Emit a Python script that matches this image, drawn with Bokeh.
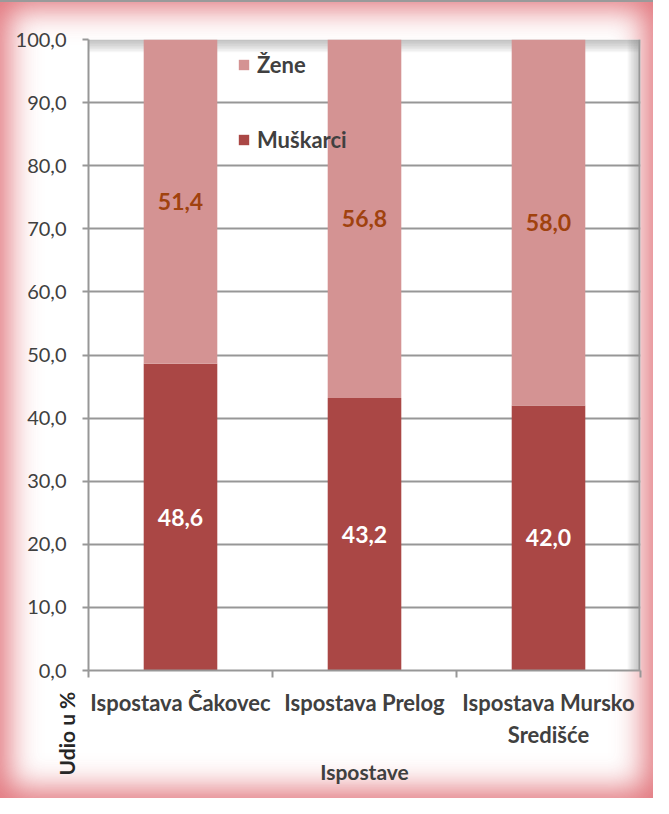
from bokeh.plotting import figure
from bokeh.models import (Range1d, FixedTicker, ColumnDataSource, LabelSet, Legend,
                          LegendItem, BoxAnnotation, Title)
from bokeh.embed import file_html
from bokeh.resources import INLINE
from bokeh.core.properties import value

# ---- data ----
categories = ["Ispostava Čakovec", "Ispostava Prelog", "Ispostava Mursko\nSredišće"]
muskarci = [48.6, 43.2, 42.0]
zene = [51.4, 56.8, 58.0]
y_ticks = [0, 10, 20, 30, 40, 50, 60, 70, 80, 90, 100]
series_names = ["Muškarci", "Žene"]
x_title = "Ispostave"
y_title = "Udio u %"

# ---- layout constants ----
FRAME_W, FRAME_H = 552, 631
BL, BR, BT, BB = 88, 13, 39, 128

FONT = "Lato"
TXT = "#404040"
GRID = "#979797"
C_M = "#AA4745"
C_Z = "#D49393"

def fmt(v):
    return f"{v:.1f}".replace(".", ",")

xs = [i + 0.5 for i in range(len(categories))]
source = ColumnDataSource(dict(
    x=xs,
    muskarci=muskarci,
    zene=zene,
    m_mid=[m / 2 for m in muskarci],
    z_mid=[m + z / 2 for m, z in zip(muskarci, zene)],
    m_txt=[fmt(v) for v in muskarci],
    z_txt=[fmt(v) for v in zene],
))

p = figure(frame_width=FRAME_W, frame_height=FRAME_H,
           min_border_left=BL, min_border_right=BR, min_border_top=BT, min_border_bottom=BB,
           x_range=Range1d(0, len(categories)), y_range=Range1d(0, 100),
           output_backend="svg", toolbar_location=None,
           border_fill_alpha=0, background_fill_color="white",
           outline_line_color=None)
# outer red glow of the chart area + thin grey line at the top
p.styles = {
    "background-color": "white",
    "box-shadow": "inset 0 2px 0 0 #9a9a9a, inset 0 0 30px 9px rgba(220,92,100,0.85)",
}

# ---- plot-area inner shadow (decoration) ----
px_x = FRAME_W / len(categories)
px_y = FRAME_H / 100.0
for i in range(1, 9):
    p.add_layout(BoxAnnotation(left=len(categories) - i * 1.6 / px_x,
                               fill_color="#808080", fill_alpha=0.07, line_color=None,
                               level="underlay"))
    p.add_layout(BoxAnnotation(bottom=100 - i * 1.6 / px_y,
                               fill_color="#808080", fill_alpha=0.07, line_color=None,
                               level="underlay"))
p.add_layout(BoxAnnotation(left=len(categories) - 2 / px_x,
                           fill_color=GRID, fill_alpha=1, line_color=None, level="underlay"))

# ---- bars ----
rs = p.vbar_stack(["muskarci", "zene"], x="x", width=0.4, color=[C_M, C_Z],
                  line_color=None, source=source)

p.add_layout(LabelSet(x="x", y="m_mid", text="m_txt", source=source,
                      text_align="center", text_baseline="middle",
                      text_font=value(FONT), text_font_style="bold",
                      text_font_size="23px", text_color="white"))
p.add_layout(LabelSet(x="x", y="z_mid", text="z_txt", source=source,
                      text_align="center", text_baseline="middle",
                      text_font=value(FONT), text_font_style="bold",
                      text_font_size="23px", text_color="#A0420E"))

# ---- legend ----
ITEM_H = 24
SPACING = 48
legend = Legend(items=[LegendItem(label=series_names[1], renderers=[rs[1]]),
                       LegendItem(label=series_names[0], renderers=[rs[0]])],
                location=(149, 517),
                glyph_width=13, glyph_height=13, label_height=ITEM_H,
                label_standoff=7, spacing=SPACING, padding=0, margin=0,
                border_line_color=None, background_fill_alpha=0,
                label_text_font=FONT, label_text_font_style="bold",
                label_text_font_size="22px", label_text_color=TXT)
p.add_layout(legend)

# ---- axes ----
xa = p.xaxis[0]
xa.ticker = FixedTicker(ticks=xs, minor_ticks=list(range(len(categories) + 1)))
xa.major_label_overrides = {x: c for x, c in zip(xs, categories)}
xa.major_tick_out = 0
xa.major_tick_in = 0
xa.major_tick_line_color = None
xa.minor_tick_out = 7
xa.minor_tick_in = 0
xa.minor_tick_line_color = GRID
xa.minor_tick_line_width = 2
xa.axis_line_color = GRID
xa.axis_line_width = 2
xa.major_label_standoff = 11
xa.major_label_text_font = FONT
xa.major_label_text_font_style = "bold"
xa.major_label_text_font_size = "22px"
xa.major_label_text_color = TXT
xa.axis_label = x_title
xa.axis_label_standoff = 8
xa.axis_label_text_font = FONT
xa.axis_label_text_font_style = "bold"
xa.axis_label_text_font_size = "21px"
xa.axis_label_text_color = TXT

ya = p.yaxis[0]
ya.ticker = FixedTicker(ticks=y_ticks, minor_ticks=[])
ya.major_label_overrides = {t: fmt(t) for t in y_ticks}
ya.major_tick_out = 6
ya.major_tick_in = 0
ya.major_tick_line_color = GRID
ya.major_tick_line_width = 2
ya.minor_tick_line_color = None
ya.axis_line_color = GRID
ya.axis_line_width = 2
ya.major_label_standoff = 16
ya.major_label_text_font = FONT
ya.major_label_text_font_size = "20px"
ya.major_label_text_color = TXT

p.ygrid.ticker = FixedTicker(ticks=y_ticks)
p.ygrid.grid_line_color = GRID
p.ygrid.grid_line_width = 2
p.xgrid.visible = False

# y-axis title placed at the lower left, below the plot area (as in the original)
p.add_layout(Title(text=y_title, align="left", vertical_align="bottom",
                   offset=-105, standoff=-132,
                   text_font=FONT, text_font_style="bold", text_font_size="21px",
                   text_color="#262626"), "left")

open("out.html", "w").write(file_html(p, INLINE))
